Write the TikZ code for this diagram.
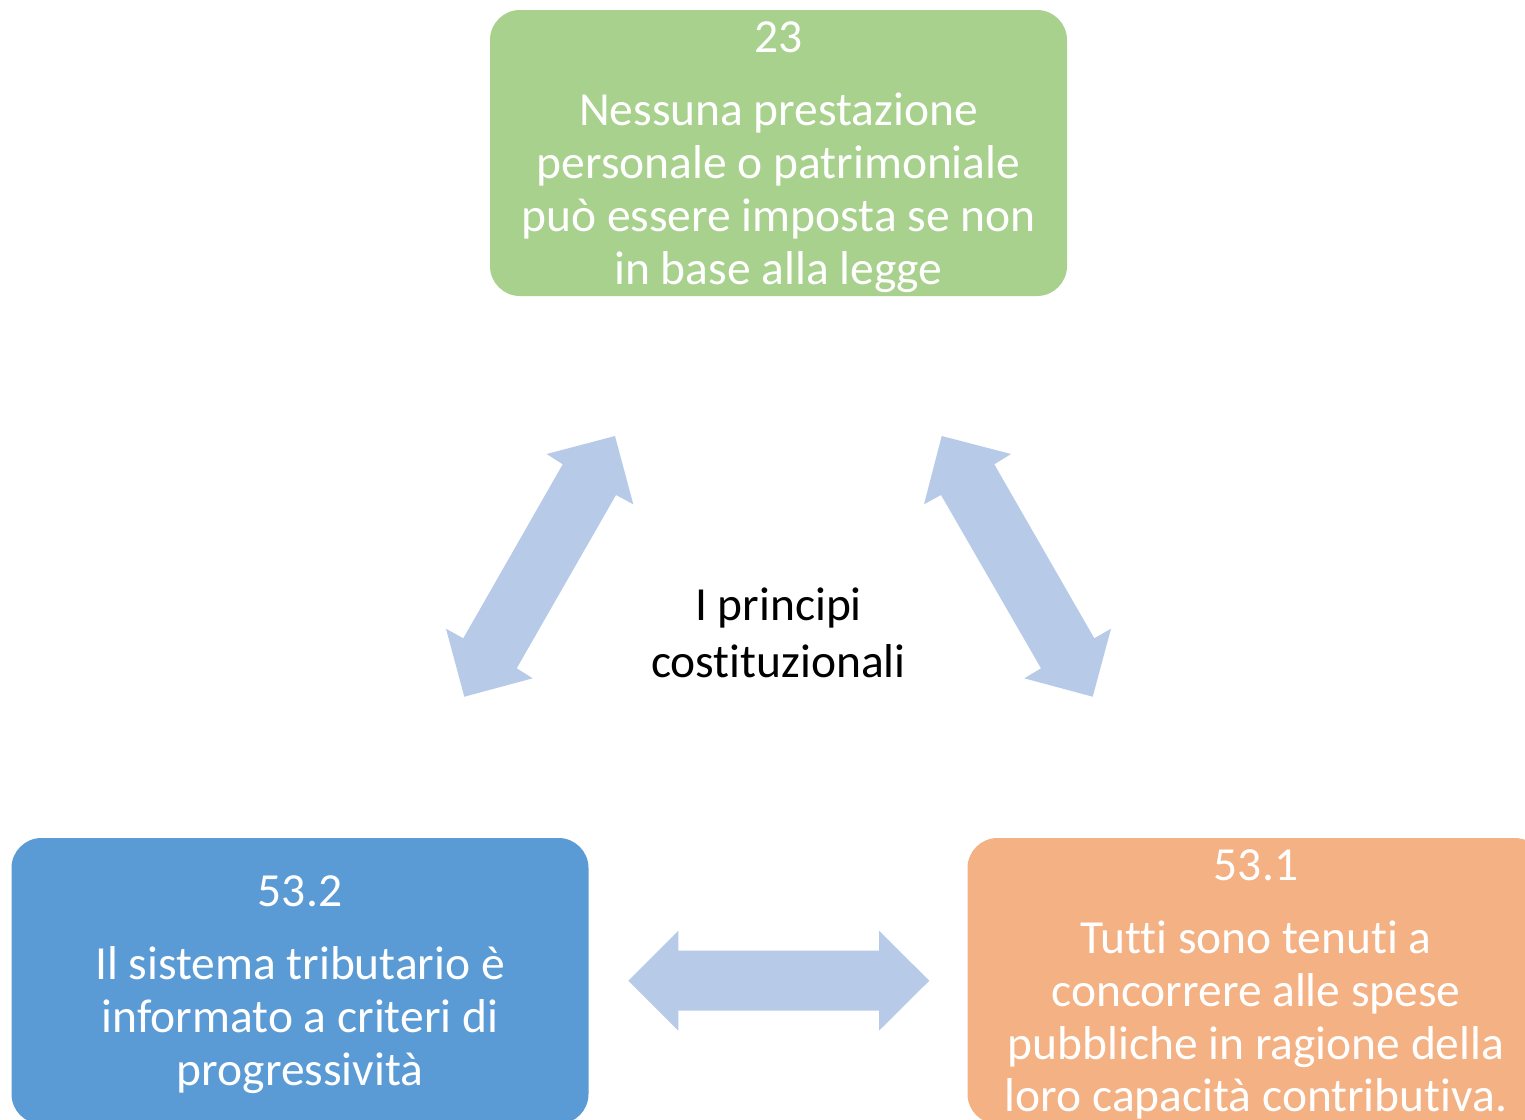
\documentclass[tikz,border=0pt]{standalone}
\usepackage{fontspec}
\setmainfont{Carlito}[Ligatures={NoCommon,NoContextual},Contextuals={NoAlternate}]
\definecolor{boxgreen}{HTML}{A9D18E}
\definecolor{boxblue}{HTML}{5B9BD5}
\definecolor{boxorange}{HTML}{F4B183}
\definecolor{arrowblue}{HTML}{B7CBE8}
\begin{document}
\begin{tikzpicture}[x=1pt,y=-1pt,
  box/.style={rectangle, rounded corners=30pt, minimum width=577pt, minimum height=286pt, inner sep=0pt, draw=none},
  boxtext/.style={text=white, font=\fontsize{47.5}{52.5}\selectfont, inner sep=0pt, anchor=base},
  centertext/.style={text=black, font=\fontsize{47.5}{57}\selectfont, inner sep=0pt, anchor=base},
  blockarrow/.style={fill=arrowblue, draw=none}]
\useasboundingbox (0,0) rectangle (1525,1119);
\clip (0,0) rectangle (1525,1119);
\fill[white] (0,0) rectangle (1525,1119);

% boxes
\node[box, fill=boxgreen] (g) at (778.5,153) {};
\node[box, fill=boxblue] (b) at (300,981) {};
\node[box, fill=boxorange] (o) at (1256,981) {};

% green text
\node[boxtext] (g0) at (778.5,52) {23};
\node[boxtext] (g1) at (778.5,125) {Nessuna prestazione};
\node[boxtext] (g2) at (778.5,178) {personale o patrimoniale};
\node[boxtext] (g3) at (778.5,231) {può essere imposta se non};
\node[boxtext] (g4) at (778.5,284) {in base alla legge};

% blue text
\node[boxtext] (b0) at (300,906) {53.2};
\node[boxtext] (b1) at (300,979) {Il sistema tributario è};
\node[boxtext] (b2) at (300,1032) {informato a criteri di};
\node[boxtext] (b3) at (300,1085) {progressività};

% orange text
\node[boxtext] (o0) at (1256,880) {53.1};
\node[boxtext] (o1) at (1256,953) {Tutti sono tenuti a};
\node[boxtext] (o2) at (1256,1006) {concorrere alle spese};
\node[boxtext] (o3) at (1256,1059) {pubbliche in ragione della};
\node[boxtext] (o4) at (1256,1111) {loro capacità contributiva.};

% center text
\node[centertext] (c1) at (778.5,620) {I principi};
\node[centertext] (c2) at (778.5,677) {costituzionali};

% left diagonal arrow
\fill[blockarrow] (615,436) -- (633.3,504.3) -- (616,495) -- (516.7,668.3) -- (532.7,678.3)
  -- (464.3,696.7) -- (446,628.7) -- (463.3,638.3) -- (562.7,464.3) -- (546.7,454) -- cycle;

% right diagonal arrow
\fill[blockarrow] (941.7,436) -- (1011,454) -- (994.3,464.3) -- (1094.3,638.3) -- (1111,628.7)
  -- (1092.7,696.7) -- (1024.3,678.3) -- (1041,668.3) -- (941,495) -- (924,504.3) -- cycle;

% horizontal arrow
\fill[blockarrow] (628.3,980.7) -- (678.3,930.7) -- (678.3,950.7) -- (879,950.7) -- (879,930.7)
  -- (929.3,980.7) -- (879,1030.7) -- (879,1010.7) -- (678.3,1010.7) -- (678.3,1030.7) -- cycle;
\end{tikzpicture}
\end{document}
